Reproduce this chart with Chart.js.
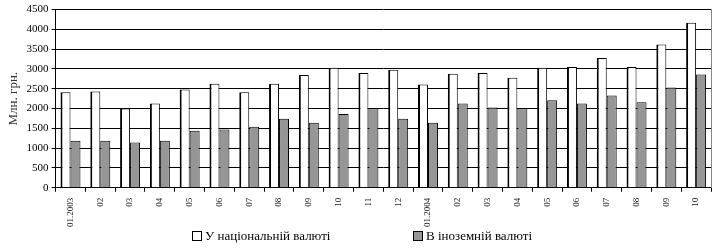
<!DOCTYPE html>
<html>
<head>
<meta charset="utf-8">
<script src="https://cdn.jsdelivr.net/npm/chart.js@4/dist/chart.umd.min.js"></script>
<style>
  html, body { margin: 0; padding: 0; background: #fff; }
  #wrap { width: 722px; height: 248px; position: relative; }
  #chart { position: absolute; top: 0; left: 0; }
  #legend { position: absolute; top: 227px; left: 0; width: 722px; height: 20px;
    font-family: 'Liberation Serif', 'Times New Roman', serif; font-size: 13px; color: #000; }
  .item { position: absolute; top: 0; white-space: nowrap; line-height: 18px; }
  .box { display: inline-block; width: 8px; height: 8px; border: 1.5px solid #000;
    vertical-align: -1px; margin-right: 3px; }
</style>
</head>
<body>
<div id="wrap">
  <canvas id="chart" width="722" height="233"></canvas>
  <div id="legend"></div>
</div>
<script>
// місяці
const months = ["01.2003", "02", "03", "04", "05", "06", "07", "08", "09", "10", "11", "12",
  "01.2004", "02", "03", "04", "05", "06", "07", "08", "09", "10"];

// У національній валюті, млн. грн.
const national = [2410, 2430, 2000, 2130, 2480, 2630, 2410, 2630, 2850, 3030, 2900, 2980,
  2610, 2880, 2900, 2780, 3030, 3050, 3280, 3050, 3620, 4170];

// В іноземній валюті, млн. грн.
const foreign = [1190, 1190, 1140, 1190, 1440, 1470, 1540, 1740, 1640, 1860, 2010, 1740,
  1640, 2130, 2030, 2010, 2210, 2130, 2330, 2160, 2530, 2860];

const serif = "'Liberation Serif', 'Times New Roman', serif";

const ctx = document.getElementById("chart").getContext("2d");
const chart = new Chart(ctx, {
  type: "bar",
  data: {
    labels: months,
    datasets: [
      {
        label: "У національній валюті",
        data: national,
        backgroundColor: "#ffffff",
        borderColor: "#000000",
        borderWidth: { left: 2, top: 1, right: 1, bottom: 0 },
        borderSkipped: false,
      },
      {
        label: "В іноземній валюті",
        data: foreign,
        backgroundColor: "#969696",
        borderColor: "#000000",
        borderWidth: { left: 1, top: 1, right: 1, bottom: 0 },
        borderSkipped: false,
      },
    ],
  },
  options: {
    responsive: false,
    animation: false,
    layout: { padding: { left: 4, right: 11, top: 0, bottom: 0 } },
    datasets: {
      bar: { categoryPercentage: 0.67, barPercentage: 1.0 },
    },
    plugins: {
      tooltip: { enabled: false },
      legend: { display: false },
    },
    scales: {
      x: {
        offset: true,
        grid: {
          offset: true,
          drawOnChartArea: false,
          drawTicks: true,
          tickLength: 4,
          color: "#000",
        },
        border: { color: "#000", width: 1 },
        ticks: {
          font: { family: serif, size: 9 },
          color: "#222",
          minRotation: 90,
          maxRotation: 90,
          autoSkip: false,
          padding: 6,
        },
      },
      y: {
        min: 0,
        max: 4500,
        ticks: {
          stepSize: 500,
          font: { family: serif, size: 11 },
          color: "#000",
          padding: 3,
          callback: (v) => String(v),
        },
        grid: { color: "#000", tickLength: 4 },
        border: { color: "#000", width: 1 },
        title: {
          display: true,
          text: "Млн. грн.",
          font: { family: serif, size: 13 },
          color: "#333",
          padding: 2,
        },
      },
      y2: {
        position: "right",
        min: 0,
        max: 4500,
        ticks: { display: false },
        grid: { drawOnChartArea: false, drawTicks: false },
        border: { color: "#888", width: 1 },
      },
    },
  },
});

// легенда під графіком
const legendPos = [192, 413];
const legend = document.getElementById("legend");
chart.data.datasets.forEach((ds, i) => {
  const item = document.createElement("span");
  item.className = "item";
  item.style.left = legendPos[i] + "px";
  const box = document.createElement("span");
  box.className = "box";
  box.style.background = ds.backgroundColor;
  item.appendChild(box);
  item.appendChild(document.createTextNode(ds.label));
  legend.appendChild(item);
});
</script>
</body>
</html>
